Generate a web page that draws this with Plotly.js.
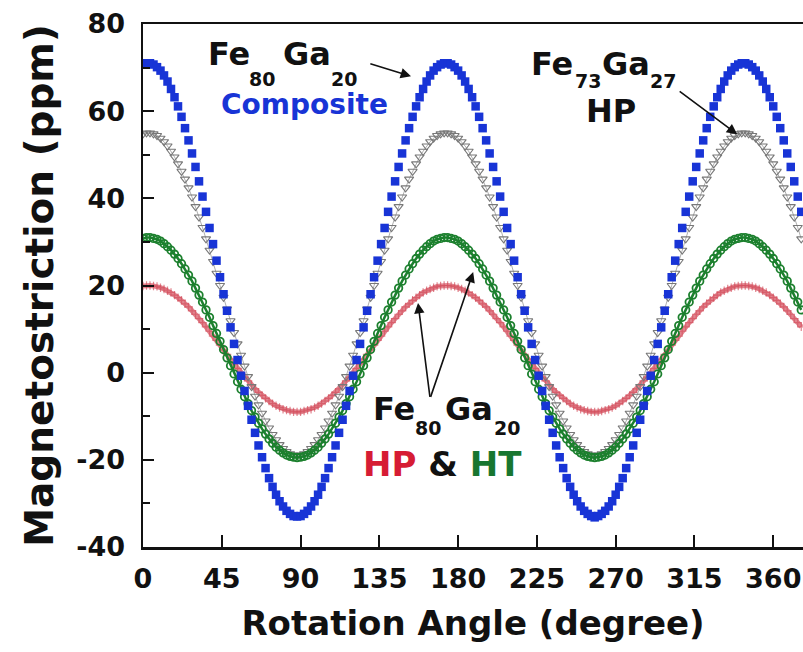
<!DOCTYPE html>
<html>
<head>
<meta charset="utf-8">
<script src="https://cdn.plot.ly/plotly-3.0.1.min.js"></script>
<style>html,body{margin:0;padding:0;background:#fff;}#chart{width:803px;height:652px;}</style>
</head>
<body>
<div id="chart"></div>
<script>
// Rotation angle (degree)
const angle = [0,2,4,6,8,10,12,14,16,18,20,22,24,26,28,30,32,34,36,38,40,42,44,46,48,50,52,54,56,58,60,62,64,66,68,70,72,74,76,78,80,82,84,86,88,90,92,94,96,98,100,102,104,106,108,110,112,114,116,118,120,122,124,126,128,130,132,134,136,138,140,142,144,146,148,150,152,154,156,158,160,162,164,166,168,170,172,174,176,178,180,182,184,186,188,190,192,194,196,198,200,202,204,206,208,210,212,214,216,218,220,222,224,226,228,230,232,234,236,238,240,242,244,246,248,250,252,254,256,258,260,262,264,266,268,270,272,274,276,278,280,282,284,286,288,290,292,294,296,298,300,302,304,306,308,310,312,314,316,318,320,322,324,326,328,330,332,334,336,338,340,342,344,346,348,350,352,354,356,358,360,362,364,366,368,370,372,374,376];

// Fe80Ga20 Composite (ppm)
const composite = [70.7,71.0,71.0,70.7,70.1,69.3,68.2,66.8,65.1,63.2,61.1,58.7,56.1,53.3,50.3,47.2,43.9,40.4,36.9,33.2,29.5,25.7,21.9,18.0,14.2,10.4,6.6,2.9,-0.7,-4.2,-7.6,-10.8,-13.8,-16.7,-19.4,-21.9,-24.2,-26.2,-28.0,-29.5,-30.7,-31.7,-32.4,-32.9,-33.0,-32.9,-32.4,-31.7,-30.7,-29.5,-28.0,-26.2,-24.2,-21.9,-19.4,-16.7,-13.8,-10.8,-7.6,-4.2,-0.7,2.9,6.6,10.4,14.2,18.0,21.9,25.7,29.5,33.2,36.9,40.4,43.9,47.2,50.3,53.3,56.1,58.7,61.1,63.2,65.1,66.8,68.2,69.3,70.1,
70.7,71.0,71.0,70.7,70.1,69.3,68.2,66.8,65.1,63.2,61.1,58.7,56.1,53.3,50.3,47.2,43.9,40.4,36.9,33.2,29.5,25.7,21.9,18.0,14.2,10.4,6.6,2.9,-0.7,-4.2,-7.6,-10.8,-13.8,-16.7,-19.4,-21.9,-24.2,-26.2,-28.0,-29.5,-30.7,-31.7,-32.4,-32.9,-33.2,-32.9,-32.4,-31.7,-30.7,-29.5,-28.0,-26.2,-24.2,-21.9,-19.4,-16.7,-13.8,-10.8,-7.6,-4.2,-0.7,2.9,6.6,10.4,14.2,18.0,21.9,25.7,29.5,33.2,36.9,40.4,43.9,47.2,50.3,53.3,56.1,58.7,61.1,63.2,65.1,66.8,68.2,69.3,70.1,
70.7,71.0,71.0,70.7,70.1,69.3,68.2,66.8,65.1,63.2,61.1,58.7,56.1,53.3,50.3,47.2,43.9,40.4,36.9];

// Fe73Ga27 HP (ppm)
const fe73HP = [54.8,55.0,55.0,54.8,54.4,53.8,53.0,52.0,50.8,49.5,47.9,46.2,44.4,42.4,40.3,38.1,35.7,33.3,30.7,28.1,25.5,22.8,20.0,17.3,14.6,11.9,9.2,6.6,4.0,1.5,-0.9,-3.2,-5.4,-7.4,-9.3,-11.1,-12.7,-14.2,-15.4,-16.5,-17.4,-18.1,-18.6,-18.9,-19.0,-18.9,-18.6,-18.1,-17.4,-16.5,-15.4,-14.2,-12.7,-11.1,-9.3,-7.4,-5.4,-3.2,-0.9,1.5,4.0,6.6,9.2,11.9,14.6,17.3,20.0,22.8,25.5,28.1,30.7,33.3,35.7,38.1,40.3,42.4,44.4,46.2,47.9,49.5,50.8,52.0,53.0,53.8,54.4,
54.8,55.0,55.0,54.8,54.4,53.8,53.0,52.0,50.8,49.5,47.9,46.2,44.4,42.4,40.3,38.1,35.7,33.3,30.7,28.1,25.5,22.8,20.0,17.3,14.6,11.9,9.2,6.6,4.0,1.5,-0.9,-3.2,-5.4,-7.4,-9.3,-11.1,-12.7,-14.2,-15.4,-16.5,-17.4,-18.1,-18.6,-18.9,-19.0,-18.9,-18.6,-18.1,-17.4,-16.5,-15.4,-14.2,-12.7,-11.1,-9.3,-7.4,-5.4,-3.2,-0.9,1.5,4.0,6.6,9.2,11.9,14.6,17.3,20.0,22.8,25.5,28.1,30.7,33.3,35.7,38.1,40.3,42.4,44.4,46.2,47.9,49.5,50.8,52.0,53.0,53.8,54.4,
54.8,55.0,55.0,54.8,54.4,53.8,53.0,52.0,50.8,49.5,47.9,46.2,44.4,42.4,40.3,38.1,35.7,33.3,30.7];

// Fe80Ga20 HT (ppm)
const fe80HT = [30.8,31.0,31.0,30.8,30.6,30.2,29.6,28.9,28.1,27.2,26.2,25.0,23.8,22.4,21.0,19.4,17.8,16.2,14.4,12.7,10.8,9.0,7.2,5.3,3.4,1.6,-0.3,-2.1,-3.8,-5.5,-7.1,-8.7,-10.2,-11.6,-12.9,-14.1,-15.2,-16.2,-17.1,-17.8,-18.4,-18.9,-19.2,-19.4,-19.5,-19.4,-19.2,-18.9,-18.4,-17.8,-17.1,-16.2,-15.2,-14.1,-12.9,-11.6,-10.2,-8.7,-7.1,-5.5,-3.8,-2.1,-0.3,1.6,3.4,5.3,7.2,9.0,10.8,12.7,14.4,16.2,17.8,19.4,21.0,22.4,23.8,25.0,26.2,27.2,28.1,28.9,29.6,30.2,30.6,
30.8,31.0,31.0,30.8,30.6,30.2,29.6,28.9,28.1,27.2,26.2,25.0,23.8,22.4,21.0,19.4,17.8,16.2,14.4,12.7,10.8,9.0,7.2,5.3,3.4,1.6,-0.3,-2.1,-3.8,-5.5,-7.1,-8.7,-10.2,-11.6,-12.9,-14.1,-15.2,-16.2,-17.1,-17.8,-18.4,-18.9,-19.2,-19.4,-19.5,-19.4,-19.2,-18.9,-18.4,-17.8,-17.1,-16.2,-15.2,-14.1,-12.9,-11.6,-10.2,-8.7,-7.1,-5.5,-3.8,-2.1,-0.3,1.6,3.4,5.3,7.2,9.0,10.8,12.7,14.4,16.2,17.8,19.4,21.0,22.4,23.8,25.0,26.2,27.2,28.1,28.9,29.6,30.2,30.6,
30.8,31.0,31.0,30.8,30.6,30.2,29.6,28.9,28.1,27.2,26.2,25.0,23.8,22.4,21.0,19.4,17.8,16.2,14.4];

// Fe80Ga20 HP (ppm)
const fe80HP = [19.9,20.0,20.0,19.9,19.8,19.5,19.2,18.8,18.4,17.8,17.2,16.6,15.8,15.1,14.2,13.4,12.4,11.5,10.5,9.5,8.4,7.4,6.3,5.2,4.2,3.1,2.0,1.0,0.0,-1.0,-1.9,-2.8,-3.7,-4.5,-5.2,-5.9,-6.5,-7.1,-7.6,-8.0,-8.4,-8.6,-8.8,-9.0,-9.0,-9.0,-8.8,-8.6,-8.4,-8.0,-7.6,-7.1,-6.5,-5.9,-5.2,-4.5,-3.7,-2.8,-1.9,-1.0,0.0,1.0,2.0,3.1,4.2,5.2,6.3,7.4,8.4,9.5,10.5,11.5,12.4,13.4,14.2,15.1,15.8,16.6,17.2,17.8,18.4,18.8,19.2,19.5,19.8,
19.9,20.0,20.0,19.9,19.8,19.5,19.2,18.8,18.4,17.8,17.2,16.6,15.8,15.1,14.2,13.4,12.4,11.5,10.5,9.5,8.4,7.4,6.3,5.2,4.2,3.1,2.0,1.0,0.0,-1.0,-1.9,-2.8,-3.7,-4.5,-5.2,-5.9,-6.5,-7.1,-7.6,-8.0,-8.4,-8.6,-8.8,-9.0,-9.0,-9.0,-8.8,-8.6,-8.4,-8.0,-7.6,-7.1,-6.5,-5.9,-5.2,-4.5,-3.7,-2.8,-1.9,-1.0,0.0,1.0,2.0,3.1,4.2,5.2,6.3,7.4,8.4,9.5,10.5,11.5,12.4,13.4,14.2,15.1,15.8,16.6,17.2,17.8,18.4,18.8,19.2,19.5,19.8,
19.9,20.0,20.0,19.9,19.8,19.5,19.2,18.8,18.4,17.8,17.2,16.6,15.8,15.1,14.2,13.4,12.4,11.5,10.5];

const xTicks = [0,45,90,135,180,225,270,315,360];
const yTicks = [-40,-20,0,20,40,60,80];

const FONT = 'DejaVu Sans, Verdana, sans-serif';
const BLUE = 'rgb(24,52,214)';
const GRAY = 'rgb(120,120,120)';
const GREEN = 'rgb(28,128,46)';
const RED = 'rgb(212,80,94)';
const INK = '#111';

const traces = [
  {x: angle, y: fe80HP, mode: 'lines+markers', name: 'Fe80Ga20 HP',
   line: {color: 'rgba(212,80,94,0.7)', width: 5},
   marker: {symbol: 'cross-thin-open', size: 6, line: {color: RED, width: 1.2}}},
  {x: angle, y: fe73HP, mode: 'lines+markers', name: 'Fe73Ga27 HP',
   line: {color: 'rgba(140,140,140,0.7)', width: 1},
   marker: {symbol: 'triangle-down-open', size: 8, color: GRAY, line: {color: GRAY, width: 1.1}}},
  {x: angle, y: fe80HT, mode: 'lines+markers', name: 'Fe80Ga20 HT',
   line: {color: GREEN, width: 2.5},
   marker: {symbol: 'circle-open', size: 7.5, color: GREEN, line: {color: GREEN, width: 1.8}}},
  {x: angle, y: composite, mode: 'markers', name: 'Fe80Ga20 Composite',
   marker: {symbol: 'square', size: 8.5, color: BLUE, line: {width: 0}}}
];

const arrow = (x, y, ax, ay) => ({x: x, y: y, ax: ax, ay: ay, xref: 'x', yref: 'y', axref: 'x', ayref: 'y',
  text: '', showarrow: true, arrowhead: 2, arrowsize: 1.3, arrowwidth: 1.6, arrowcolor: INK});
const piece = (x, y, text, color, size, anchor) => ({x: x, y: y, xref: 'x', yref: 'y', text: text, showarrow: false,
  xanchor: anchor || 'left', yanchor: 'middle', borderpad: 0,
  font: {family: FONT, size: size, color: color, weight: 'bold'}});

const MAIN = 32, SUB = 19;

const layout = {
  width: 803, height: 652,
  margin: {l: 143, r: 0, t: 24, b: 105},
  paper_bgcolor: '#fff', plot_bgcolor: '#fff',
  showlegend: false,
  font: {family: FONT, color: INK},
  xaxis: {
    range: [0, 377], tickvals: xTicks, ticktext: xTicks.map(String),
    ticks: 'inside', ticklen: 12, tickwidth: 2, tickcolor: INK,
    showline: true, linewidth: 2.5, linecolor: INK, mirror: true,
    showgrid: false, zeroline: false, ticklabelstandoff: 6,
    tickfont: {family: FONT, size: 27, color: INK, weight: 'bold'},
    title: {text: 'Rotation Angle (degree)', standoff: 19,
            font: {family: FONT, size: 34, color: INK, weight: 'bold'}}
  },
  yaxis: {
    range: [-40, 80], tickvals: yTicks, ticktext: yTicks.map(String),
    ticks: 'inside', ticklen: 11, tickwidth: 2, tickcolor: INK,
    minor: {dtick: 10, ticks: 'inside', ticklen: 7, tickwidth: 2, tickcolor: INK, showgrid: false},
    showline: true, linewidth: 2.5, linecolor: INK, mirror: false,
    showgrid: false, zeroline: false, ticklabelstandoff: 10,
    tickfont: {family: FONT, size: 27, color: INK, weight: 'bold'},
    title: {text: 'Magnetostriction (ppm)', standoff: 11,
            font: {family: FONT, size: 39, color: INK, weight: 'bold'}}
  },
  annotations: [
    // Fe80Ga20 / Composite (top left)
    piece(36.6, 73.1, 'Fe', INK, MAIN),
    piece(60.2, 67.4, '80', INK, SUB),
    piece(79.4, 73.1, 'Ga', INK, MAIN),
    piece(106.8, 67.4, '20', INK, SUB),
    piece(92.0, 61.6, 'Composite', BLUE, 28, 'center'),
    arrow(153.1, 68.0, 129.0, 71.0),
    // Fe73Ga27 HP (top right)
    piece(221.1, 70.8, 'Fe', INK, MAIN),
    piece(246.4, 67.0, '73', INK, SUB),
    piece(261.7, 70.8, 'Ga', INK, MAIN),
    piece(289.3, 67.0, '27', INK, SUB),
    piece(267.4, 60.0, 'HP', INK, MAIN, 'center'),
    arrow(339.4, 54.7, 305.7, 64.8),
    // Fe80Ga20 HP & HT (bottom middle)
    piece(130.6, -8.3, 'Fe', INK, MAIN),
    piece(154.6, -12.8, '80', INK, SUB),
    piece(172.0, -8.3, 'Ga', INK, MAIN),
    piece(199.8, -12.8, '20', INK, SUB),
    piece(170.9, -20.9, '<span style="color:rgb(214,28,52)">HP</span> &amp; <span style="color:rgb(24,118,48)">HT</span>', INK, 34, 'center'),
    arrow(157.1, 16.0, 164.0, -5.9),
    arrow(188.6, 23.1, 164.0, -5.9)
  ]
};

Plotly.newPlot('chart', traces, layout, {staticPlot: true, displayModeBar: false});
</script>
</body>
</html>
